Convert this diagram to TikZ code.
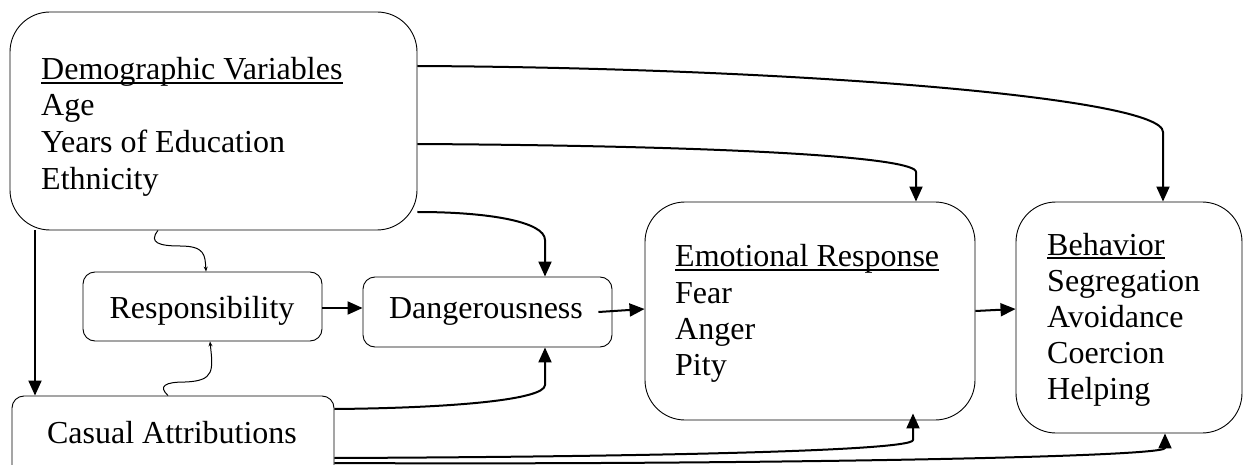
\documentclass[tikz,border=0pt]{standalone}
\usepackage{fontspec}
\setmainfont{Liberation Serif}
\usetikzlibrary{arrows.meta,fit,calc}
\begin{document}
\begin{tikzpicture}[x=1pt,y=-1pt,
  bigbox/.style={draw=black, line width=0.9pt, rounded corners=40pt, inner sep=0pt},
  smallbox/.style={draw=black, line width=0.9pt, rounded corners=12pt, inner sep=0pt},
  txt/.style={anchor=base west, inner sep=0pt, font=\fontsize{32}{36}\selectfont},
  ctxt/.style={anchor=base, inner sep=0pt, font=\fontsize{32}{36}\selectfont},
  conn/.style={line width=2pt, line join=round, -{Triangle[length=15pt,width=13pt]}},
  wiggle/.style={line width=1pt, -{Stealth[length=5pt,width=4pt]}},
  uline/.style={line width=1.4pt}
]
\useasboundingbox (0,0) rectangle (1248,465);
\clip (0,0) rectangle (1248,465);

% boxes
\node[bigbox, fit={(10,12) (417,230)}] (demo) {};
\node[bigbox, fit={(645,202) (975,420)}] (emo) {};
\node[bigbox, fit={(1016,202) (1242,433)}] (beh) {};
\node[smallbox, fit={(83,272) (322,341)}] (resp) {};
\node[smallbox, fit={(363,277) (612,347)}] (dang) {};
\node[smallbox, fit={(12,396) (334,480)}] (cas) {};

% texts
\node[txt] (d1) at (41,80) {Demographic Variables};
\node[txt] (d2) at (41,116) {Age};
\node[txt] (d3) at (41,153) {Years of Education};
\node[txt] (d4) at (41,190) {Ethnicity};
\draw[uline] ([yshift=-3pt]d1.base west) -- ([yshift=-3pt]d1.base east);

\node[txt] (e1) at (675,267) {Emotional Response};
\node[txt] (e2) at (675,303) {Fear};
\node[txt] (e3) at (675,339) {Anger};
\node[txt] (e4) at (675,375) {Pity};
\draw[uline] ([yshift=-3pt]e1.base west) -- ([yshift=-3pt]e1.base east);

\node[txt] (b1) at (1047,255) {Behavior};
\node[txt] (b2) at (1047,291) {Segregation};
\node[txt] (b3) at (1047,327) {Avoidance};
\node[txt] (b4) at (1047,363) {Coercion};
\node[txt] (b5) at (1047,399) {Helping};
\draw[uline] ([yshift=-3pt]b1.base west) -- ([yshift=-3pt]b1.base east);

\node[ctxt] (rt) at (202,318) {Responsibility};
\node[ctxt] (dt) at (486,318) {Dangerousness};
\node[ctxt] (ct) at (172,443) {Casual Attributions};

% connectors
\draw[conn] ([yshift=55pt]demo.east) .. controls (800,68) and (1163,98) .. (1163,132) -- ([xshift=34pt]beh.north);
\draw[conn] ([yshift=-23pt]demo.east) .. controls (750,146) and (916,158) .. (916,172) -- ([xshift=106pt]emo.north);
\draw[conn] ([yshift=-91pt]demo.east) .. controls (490,212) and (545,222) .. (545,240) -- ([xshift=57.5pt]dang.north);
\draw[conn] ([xshift=-178.5pt]demo.south) -- ([xshift=-138pt]cas.north);
\draw[conn] ([yshift=-1.5pt]resp.east) -- ([yshift=4pt]dang.west);
\draw[conn] ([xshift=-14pt]dang.east) -- ([yshift=2pt]emo.west);
\draw[conn] (emo.east) -- ([yshift=8.5pt]beh.west);
\draw[conn] ([yshift=29pt]cas.east) .. controls (450,408) and (545,400) .. (545,385) -- ([xshift=57.5pt]dang.south);
\draw[conn] ([yshift=-20pt]cas.east) .. controls (600,457) and (913,452) .. (913,440) -- ([xshift=103pt,yshift=7pt]emo.south);
\draw[conn] ([yshift=-25pt]cas.east) .. controls (700,465) and (1165,458) .. (1165,448) -- ([xshift=36pt]beh.south);

\draw[wiggle] ([xshift=-55.5pt]demo.south) .. controls (148,243) and (160,246) .. (180,246) .. controls (205,246) and (205,255) .. ([xshift=3.5pt]resp.north);
\draw[wiggle] ([xshift=-5pt]cas.north) .. controls (158,386) and (165,382) .. (185,382) .. controls (215,381) and (213,370) .. ([xshift=7.5pt]resp.south);
\end{tikzpicture}
\end{document}
